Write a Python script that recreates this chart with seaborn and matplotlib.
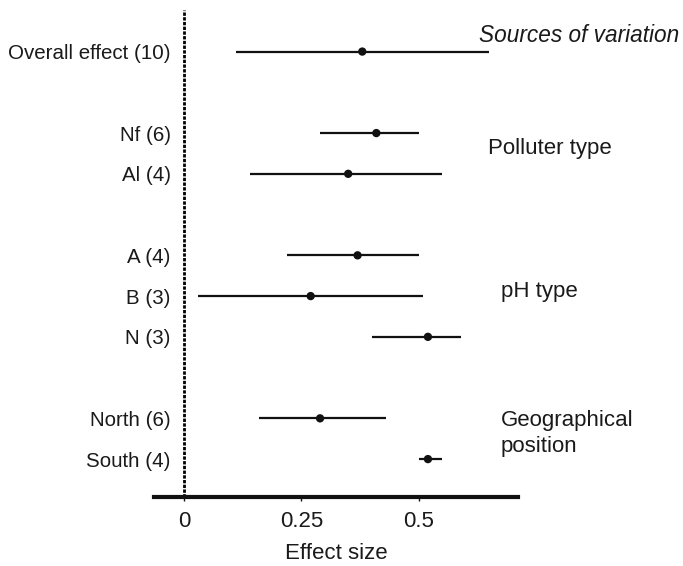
import matplotlib
matplotlib.use("Agg")
import matplotlib.pyplot as plt
import seaborn as sns

# Forest plot data
labels = ["Overall effect (10)", "Nf (6)", "Al (4)", "A (4)", "B (3)", "N (3)",
          "North (6)", "South (4)"]
groups = ["Overall", "Polluter type", "Polluter type", "pH type", "pH type",
          "pH type", "Geographical\nposition", "Geographical\nposition"]
effect = [0.38, 0.41, 0.35, 0.37, 0.27, 0.52, 0.29, 0.52]
ci_low = [0.11, 0.29, 0.14, 0.22, 0.03, 0.40, 0.16, 0.50]
ci_high = [0.65, 0.50, 0.55, 0.50, 0.51, 0.59, 0.43, 0.55]
x_ticks = [0, 0.25, 0.5]
x_ticklabels = ["0", "0.25", "0.5"]

sns.set_theme(style="white")
plt.rcParams["font.family"] = ["Liberation Sans", "DejaVu Sans"]

# row positions: one row per estimate, blank row between groups
pos = []
y = 0
prev = None
for g in groups:
    if prev is not None and g != prev:
        y += 1
    pos.append(y)
    y += 1
    prev = g

fig = plt.figure(figsize=(6.83, 5.66), dpi=100)
ax = fig.add_axes([154 / 683, 69 / 566, 364 / 683, 487 / 566])

ax.axvline(0, color="black", lw=2, ls=(0, (1.2, 0.5)), zorder=1)
ax.hlines(pos, ci_low, ci_high, color="#111111", lw=1.6, zorder=2)
sns.scatterplot(x=effect, y=pos, color="#111111", s=36, edgecolor="none",
                zorder=3, ax=ax)

ax.set_xlim(-0.064, 0.712)
ax.set_ylim(10.93, -1.02)

for side in ["top", "right"]:
    ax.spines[side].set_visible(False)
ax.spines["left"].set_position(("data", 0))
ax.spines["left"].set_visible(False)
ax.spines["bottom"].set_linewidth(3)
ax.spines["bottom"].set_color("#111111")

ax.set_yticks(pos)
ax.set_yticklabels(labels, fontsize=14.8, color="#1a1a1a")
ax.tick_params(axis="y", length=0, pad=9.5)

ax.set_xticks(x_ticks)
ax.set_xticklabels(x_ticklabels, fontsize=16, color="#1a1a1a")
ax.tick_params(axis="x", bottom=True, length=3, width=1, direction="out",
               pad=7, color="#111111")
ax.set_xlabel("Effect size", fontsize=16, color="#1a1a1a", labelpad=8)

# group captions on the right
ax.text(0.628, -0.39, "Sources of variation", fontsize=16.3, style="italic",
        va="center", ha="left", color="#1a1a1a", clip_on=False)
captions = ["Polluter type", "pH type", "Geographical\nposition"]
cap_x = [0.647, 0.675, 0.675]
for cap, cx in zip(captions, cap_x):
    rows = [p for p, g in zip(pos, groups) if g == cap]
    cy = sum(rows) / len(rows) - 0.12
    ax.text(cx, cy, cap, fontsize=16, va="center", ha="left",
            color="#1a1a1a", clip_on=False, linespacing=1.3)

fig.savefig("out.png", dpi=100)
